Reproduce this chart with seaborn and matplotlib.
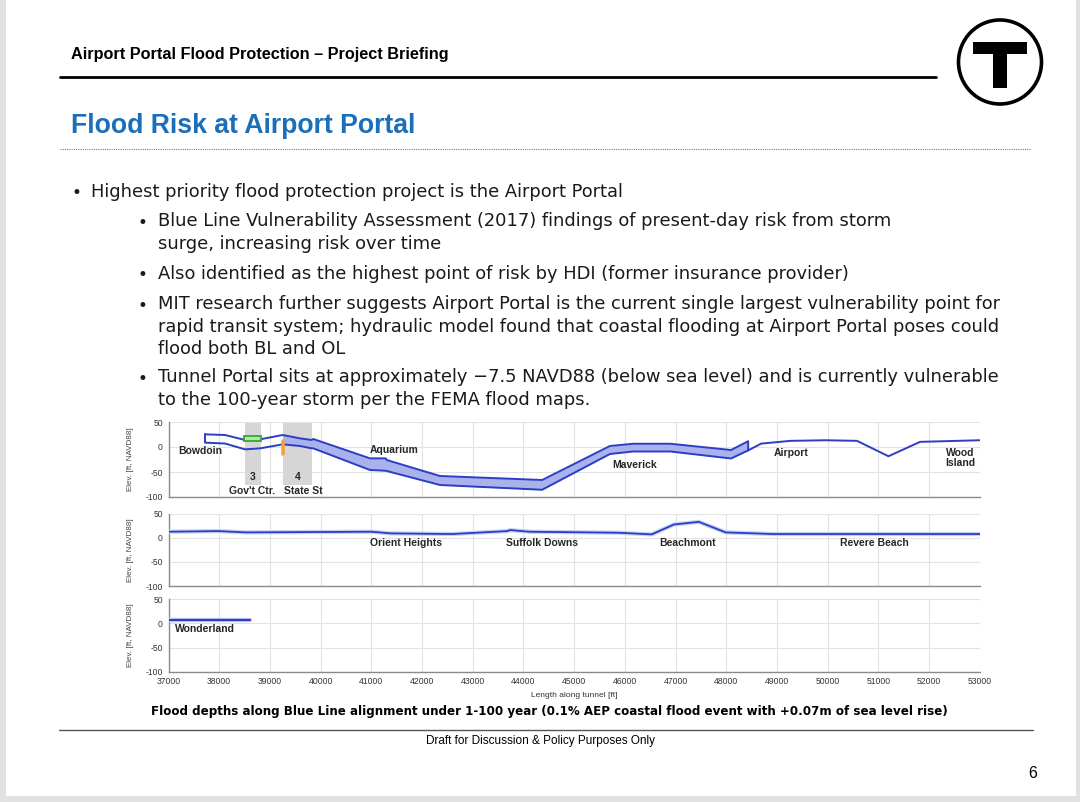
import numpy as np
import pandas as pd
import seaborn as sns
import matplotlib.pyplot as plt
from matplotlib.lines import Line2D
from matplotlib.patches import Rectangle, Ellipse

# ---- data ----
# panel 1: tunnel band (top / bottom of flood band), Bowdoin -> Airport portal
band_ft = [37720, 38114, 38509, 38805, 39252, 39594, 39824, 39856, 40974, 41284, 41304,
           42355, 44370, 45706, 46160, 46900, 48095, 48433]
band_top = [25.3, 24, 14, 15.3, 24, 17.3, 14, 16, -22.7, -22.7, -26,
            -58, -66, 2, 6.5, 6.5, -6, 11.6]
band_bot = [8.7, 7, -4.7, -2.7, 5.3, 2, -2.7, -2.7, -46, -47.5, -48,
            -76, -85.5, -14, -9, -9, -23, -6.8]
flood_from = 39252

# panel 1: at-grade section Airport -> Wood Island
grade_ft = [48433, 48690, 49270, 49960, 50580, 51200, 51825, 53000]
grade_el = [-6.8, 6.8, 12.3, 13.5, 12.3, -18.5, 10.3, 13.5]

# panel 2: Orient Heights -> Revere Beach
p2_ft = [37000, 37990, 38530, 41000, 41380, 42590, 43680, 43740, 44120, 45870,
         46530, 46970, 47460, 47990, 48940, 53000]
p2_el = [12.3, 13.6, 10.9, 12.3, 8.9, 7.5, 13.6, 15.7, 12.3, 10.2,
         6.8, 27.3, 32.7, 10.9, 7.5, 7.5]

# panel 3: Wonderland
p3_ft = [37000, 38600]
p3_el = [8, 8]

stations_1 = ['Bowdoin', 'Aquarium', 'Maverick', 'Airport', 'Wood\nIsland']
stations_1_ft = [37200, 40974, 45760, 48930, 52920]
stations_1_el = [-8, -6, -36, -12, -22]
stations_2 = ['Orient Heights', 'Suffolk Downs', 'Beachmont', 'Revere Beach']
stations_2_ft = [41680, 44360, 47240, 50930]
stations_3 = ['Wonderland']

x_ticks = list(range(37000, 53001, 1000))
y_ticks = [50, 0, -50, -100]

header = 'Airport Portal Flood Protection \u2013 Project Briefing'
title = 'Flood Risk at Airport Portal'
bullets = [
    (0, 'Highest priority flood protection project is the Airport Portal'),
    (1, 'Blue Line Vulnerability Assessment (2017) findings of present-day risk from storm\nsurge, increasing risk over time'),
    (1, 'Also identified as the highest point of risk by HDI (former insurance provider)'),
    (1, 'MIT research further suggests Airport Portal is the current single largest vulnerability point for\nrapid transit system; hydraulic model found that coastal flooding at Airport Portal poses could\nflood both BL and OL'),
    (1, 'Tunnel Portal sits at approximately \u22127.5 NAVD88 (below sea level) and is currently vulnerable\nto the 100-year storm per the FEMA flood maps.'),
]
bullet_y = [192, 222, 274, 305, 378]
caption = 'Flood depths along Blue Line alignment under 1-100 year (0.1% AEP coastal flood event with +0.07m of sea level rise)'
footer = 'Draft for Discussion & Policy Purposes Only'

LINE = '#2b3ec4'
FILL = '#a9b2ec'
HALO = '#c8cff5'
ARIAL = ['Liberation Sans', 'DejaVu Sans']
LBL = 7.5

sns.set_style('whitegrid', {'grid.color': '#e3e3e3', 'axes.edgecolor': '#8a8a8a'})
plt.rcParams['font.family'] = ['DejaVu Sans']
plt.rcParams['axes.unicode_minus'] = False

W, H = 1080, 802
fig = plt.figure(figsize=(10.8, 8.02), dpi=100, facecolor='#e1e1e1')


def fx(x):
    return x / W


def fy(y):
    return 1 - y / H


# white slide
fig.add_artist(Rectangle((fx(6), fy(796)), fx(1070), 796 / H, transform=fig.transFigure,
                         fc='white', ec='none', zorder=0))

# header
fig.text(fx(71), fy(54), header, fontsize=11.7, fontweight='bold', family=ARIAL,
         va='center', ha='left', color='black')
fig.add_artist(Line2D([fx(60), fx(936)], [fy(77), fy(77)], transform=fig.transFigure,
                      color='black', lw=2))

# T logo
fig.add_artist(Ellipse((fx(1000), fy(62)), 83 / W, 84 / H, transform=fig.transFigure,
                       fc='white', ec='black', lw=2.6))
fig.add_artist(Rectangle((fx(973), fy(53.5)), 54 / W, 11.8 / H, transform=fig.transFigure,
                         fc='black', ec='none'))
fig.add_artist(Rectangle((fx(993.3), fy(88)), 13.4 / W, 35 / H, transform=fig.transFigure,
                         fc='black', ec='none'))

# title
fig.text(fx(71), fy(126), title, fontsize=19.2, fontweight='bold', family=ARIAL,
         va='center', ha='left', color='#1b6fba')
fig.add_artist(Line2D([fx(60), fx(1031)], [fy(149), fy(149)], transform=fig.transFigure,
                      color='#7a7a7a', lw=0.8, ls=(0, (1, 1))))

# bullets
for (lvl, txt), yy in zip(bullets, bullet_y):
    bx = 72 if lvl == 0 else 138
    tx = 91 if lvl == 0 else 158
    fig.text(fx(bx), fy(yy + 1), '\u2022', fontsize=12, va='center', ha='left', color='#1a1a1a')
    fig.text(fx(tx), fy(yy + 10.75 * txt.count('\n')), txt, fontsize=12.9, va='center',
             ha='left', color='#1a1a1a', linespacing=1.33)

# ---- the three profile panels ----
left, width = 168.5 / W, (979.7 - 168.5) / W
panels = [(422, 497), (513.5, 586), (599.3, 671.7)]
axes = []
for top, bot in panels:
    ax = fig.add_axes([left, fy(bot), width, (bot - top) / H])
    axes.append(ax)

ax1, ax2, ax3 = axes

# station zones
ax1.axvspan(38509, 38819, ymin=25 / 150, ymax=148 / 150, color='#d6d6d6', lw=0, zorder=1)
ax1.axvspan(39264, 39836, ymin=25 / 150, ymax=148 / 150, color='#d6d6d6', lw=0, zorder=1)

band = pd.DataFrame({'ft': band_ft, 'top': band_top, 'bot': band_bot})
wet = band['ft'] >= flood_from
ax1.fill_between(band['ft'], band['bot'], band['top'], where=wet, color=FILL, lw=0, zorder=2)
outline = pd.DataFrame({'ft': band_ft + band_ft[::-1] + [band_ft[0]],
                        'el': band_top + band_bot[::-1] + [band_top[0]]})
sns.lineplot(data=outline, x='ft', y='el', sort=False, estimator=None, color=LINE, lw=1.4,
             ax=ax1, zorder=4)
sns.lineplot(x=grade_ft, y=grade_el, sort=False, estimator=None, color=LINE, lw=1.4,
             ax=ax1, zorder=4)

# markers at Gov't Ctr / State St
ax1.add_patch(Rectangle((38495, 12), 324, 10.7, fc='#b7e4ad', ec='#2faa2f', lw=1.3, zorder=5))
ax1.plot([39265, 39265], [12, -14.7], color='#f2a23a', lw=2.6, zorder=5)

for name, x, y in zip(stations_1, stations_1_ft, stations_1_el):
    ha = 'right' if '\n' in name else 'left'
    ax1.text(x, y, name, fontsize=LBL, fontweight='bold', family=ARIAL, ha=ha, va='center',
             multialignment='center', linespacing=1.1, zorder=6)
ax1.text(38667, -60, '3', fontsize=LBL, fontweight='bold', family=ARIAL, ha='center', va='center')
ax1.text(39554, -60, '4', fontsize=LBL, fontweight='bold', family=ARIAL, ha='center', va='center')
ax1.text(38647, -88, "Gov't Ctr.", fontsize=LBL, fontweight='bold', family=ARIAL, ha='center', va='center')
ax1.text(39663, -88, 'State St', fontsize=LBL, fontweight='bold', family=ARIAL, ha='center', va='center')

# panels 2 and 3
sns.lineplot(x=p2_ft, y=p2_el, sort=False, estimator=None, color=HALO, lw=3, ax=ax2, zorder=3)
sns.lineplot(x=p2_ft, y=p2_el, sort=False, estimator=None, color=LINE, lw=1.3, ax=ax2, zorder=4)
for name, x in zip(stations_2, stations_2_ft):
    ax2.text(x, -11, name, fontsize=LBL, fontweight='bold', family=ARIAL, ha='center', va='center')

sns.lineplot(x=p3_ft, y=p3_el, sort=False, estimator=None, color=HALO, lw=3.2, ax=ax3, zorder=3)
sns.lineplot(x=p3_ft, y=p3_el, sort=False, estimator=None, color=LINE, lw=1.6, ax=ax3, zorder=4)
ax3.text(37128, -12, stations_3[0], fontsize=LBL, fontweight='bold', family=ARIAL, ha='left', va='center')

for i, ax in enumerate(axes):
    ax.set_xlim(37000, 53000)
    ax.set_ylim(-100, 50)
    ax.set_xticks(x_ticks)
    ax.set_yticks(y_ticks)
    ax.grid(True, color='#e3e3e3', lw=0.8)
    for s in ['top', 'right']:
        ax.spines[s].set_visible(False)
    for s in ['left', 'bottom']:
        ax.spines[s].set_color('#8a8a8a')
        ax.spines[s].set_linewidth(1)
    ax.tick_params(axis='both', length=3, width=0.8, color='#8a8a8a', pad=1,
                   labelsize=6.2, labelcolor='#333333')
    for lab in ax.get_yticklabels() + ax.get_xticklabels():
        lab.set_family(ARIAL)
    ax.set_ylabel('Elev. [ft, NAVD88]', fontsize=5.8, family=ARIAL, color='#444444')
    ax.yaxis.set_label_coords(-0.043, 0.5)
    ax.set_xlabel('')
    if i < 2:
        ax.tick_params(axis='x', labelbottom=False)
axes[2].set_xlabel('Length along tunnel [ft]', fontsize=6, family=ARIAL, color='#333333', labelpad=4)

# caption and footer
fig.text(fx(549), fy(712), caption, fontsize=8.6, fontweight='bold', va='center', ha='center',
         color='black')
fig.add_artist(Line2D([fx(59), fx(1033)], [fy(730), fy(730)], transform=fig.transFigure,
                      color='#555555', lw=1))
fig.text(fx(541), fy(741), footer, fontsize=8.5, family=ARIAL, va='center', ha='center', color='black')
fig.text(fx(1033), fy(773), '6', fontsize=11.5, family=ARIAL, va='center', ha='center', color='black')

fig.savefig('out.png', dpi=100, facecolor=fig.get_facecolor())
